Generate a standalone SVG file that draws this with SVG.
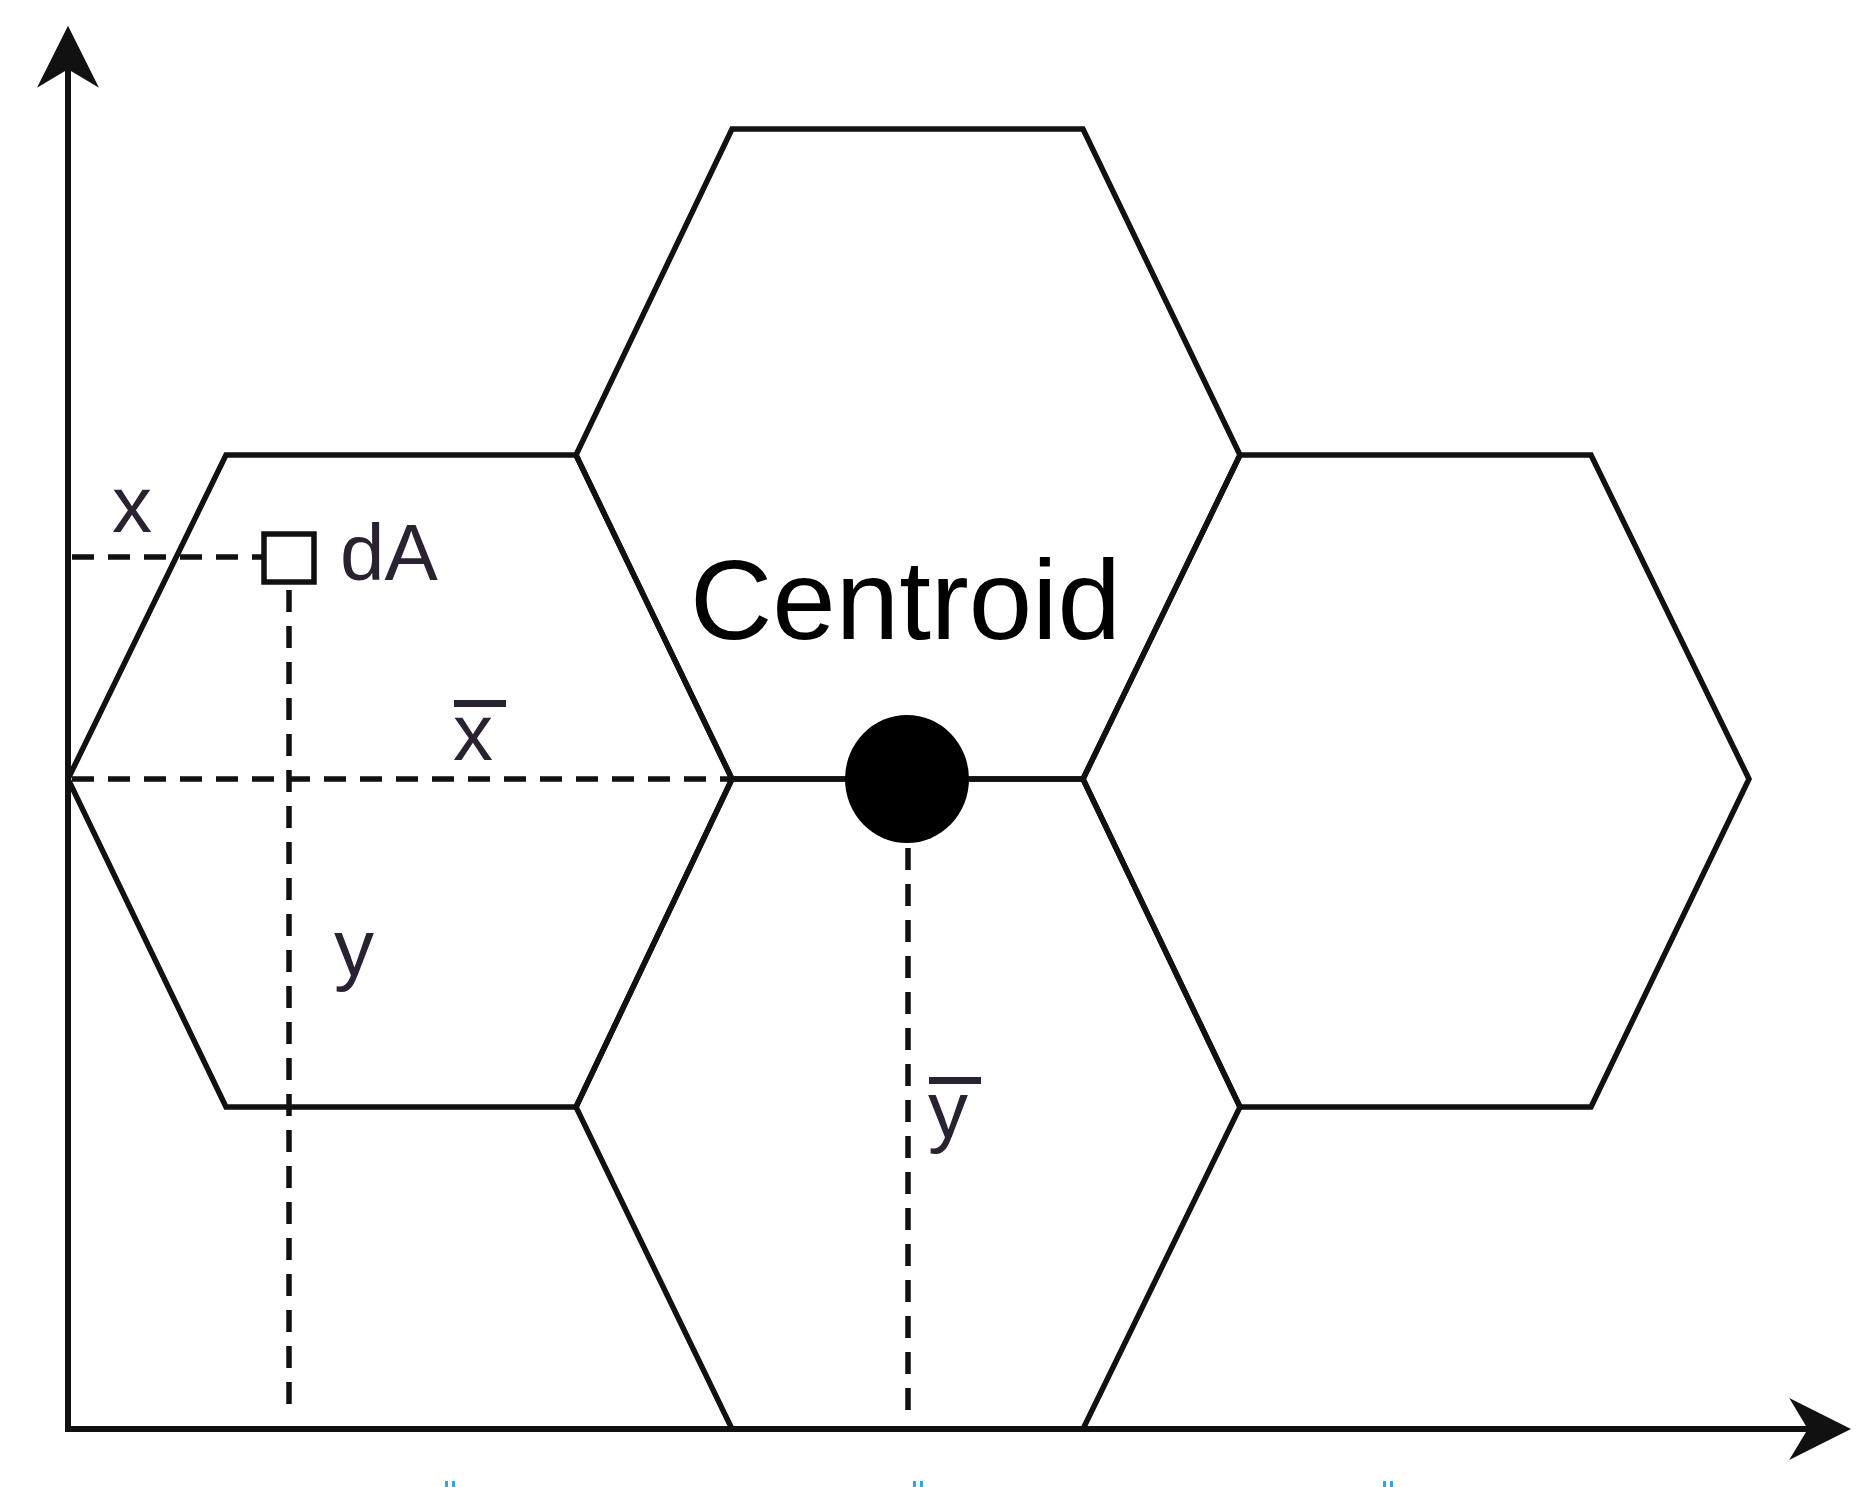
<svg xmlns="http://www.w3.org/2000/svg" width="1857" height="1487" viewBox="0 0 1857 1487">
<style>
.hex{fill:none;stroke:#111;stroke-width:5.5;stroke-linejoin:miter}
.dash{fill:none;stroke:#111;stroke-width:5.5;stroke-dasharray:22 14}
.ax{fill:none;stroke:#111;stroke-width:6}
.t{font-family:"Liberation Sans",Arial,sans-serif;fill:#2a2230}
.tick{fill:#29a8e8}
</style>
<defs>
<marker id="ah2" viewBox="0 0 10 10" refX="9" refY="5" markerWidth="62" markerHeight="62" markerUnits="userSpaceOnUse" orient="auto">
<path d="M0,0 L10,5 L0,10 L3,5 z" fill="#111"/>
</marker>
</defs>
<rect width="1857" height="1487" fill="#fff"/>
<g id="connectors">
<line class="ax" x1="68" y1="1429" x2="68" y2="32" marker-end="url(#ah2)"/>
<line class="ax" x1="65" y1="1429" x2="1845" y2="1429" marker-end="url(#ah2)"/>
<line class="dash" x1="72" y1="557" x2="262" y2="557"/>
<line class="dash" x1="72" y1="779" x2="732" y2="779"/>
<line class="dash" x1="289" y1="590" x2="289" y2="1410"/>
<line class="dash" x1="908" y1="848" x2="908" y2="1410"/>
</g>
<g id="hex-top"><polygon class="hex" points="732,129 1083,129 1240,455 1083,779 732,779 576,455"/></g>
<g id="hex-left"><polygon class="hex" points="226,455 576,455 732,779 576,1107 226,1107 68,779"/></g>
<g id="hex-right"><polygon class="hex" points="1240,455 1591,455 1749,779 1591,1107 1240,1107 1083,779"/></g>
<g id="hex-bottom"><polygon class="hex" points="732,779 1083,779 1240,1107 1083,1429 732,1429 576,1107"/></g>
<g id="dA"><rect x="264" y="534" width="50" height="48" fill="#fff" stroke="#111" stroke-width="5.5"/>
<text class="t" x="340" y="580" font-size="80">dA</text></g>
<g id="centroid"><ellipse cx="907" cy="779" rx="62" ry="64" fill="#000"/>
<text class="t" x="690" y="639" font-size="114" style="fill:#000">Centroid</text></g>
<g id="labels">
<text class="t" x="112" y="532" font-size="80">x</text>
<text class="t" x="453" y="760" font-size="80">x</text>
<rect x="454" y="700" width="52" height="7" fill="#2a2230"/>
<text class="t" x="334" y="975" font-size="80">y</text>
<text class="t" x="928" y="1137" font-size="80">y</text>
<rect x="929" y="1077" width="52" height="7" fill="#2a2230"/>
</g>
<g id="ticks">
<rect class="tick" x="445" y="1481" width="3" height="6"/><rect class="tick" x="452" y="1481" width="3" height="6"/>
<rect class="tick" x="913" y="1481" width="3" height="6"/><rect class="tick" x="920" y="1481" width="3" height="6"/>
<rect class="tick" x="1383" y="1481" width="3" height="6"/><rect class="tick" x="1390" y="1481" width="3" height="6"/>
</g>
</svg>
